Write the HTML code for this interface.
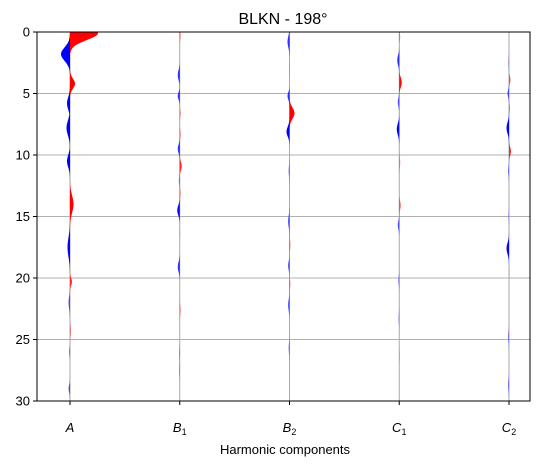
<!DOCTYPE html>
<html><head><meta charset="utf-8"><style>
body{margin:0;background:#fff;}
svg text{font-family:"Liberation Sans","DejaVu Sans",sans-serif;}
</style></head><body>
<svg id="chart" width="543" height="466" viewBox="0 0 543 466" xmlns="http://www.w3.org/2000/svg">
<text x="283" y="24" font-size="16" text-anchor="middle">BLKN - 198°</text>
<g id="grid"></g><g id="traces"></g><g id="axes"></g>
<text x="285" y="454" font-size="13" text-anchor="middle">Harmonic components</text>
</svg>
<script>
const components = ["A","B1","B2","C1","C2"];
const yTicks = [0,5,10,15,20,25,30];
// each trace: depths, amplitudes (px-ish, + red right, - blue left), widths (sigma in depth units)
const depthsA = [0.1,1.8,4.2,5.8,7.8,10.5,14.0,17.5,20.3,22.0,24.3,26.0,29.0];
const ampsA   = [28,-9,5,-3,-3.5,-3,3.5,-2.5,2,-1.5,1,-1,-1.5];
const sigA    = [0.55,0.55,0.4,0.5,0.6,0.5,0.7,0.8,0.3,0.5,0.4,0.3,0.3];
const depthsB1 = [0.3,3.5,5.2,6.6,8.3,9.5,10.9,12.1,13.1,14.5,16.4,19.1,22.6,26.1,27.5];
const ampsB1   = [1,-2,-2,1,1,-2,2,-1,1,-2.5,0.5,-2,1,-0.7,-0.7];
const sigB1    = [0.3,0.4,0.3,0.3,0.3,0.35,0.35,0.3,0.3,0.4,0.3,0.4,0.35,0.4,0.4];
const depthsB2 = [0.8,3.0,5.2,6.6,8.1,11.3,15.4,17.3,19.0,20.5,22.2,25.7];
const ampsB2   = [-2,0.5,-2,5,-3,-1,-1.5,1,-1.5,1,-1.5,-1];
const sigB2    = [0.45,0.4,0.3,0.45,0.4,0.4,0.45,0.4,0.35,0.35,0.45,0.4];
const depthsC1 = [0.4,2.3,4.1,5.7,7.9,10.6,14.1,15.7,20.2,23.3,26.3];
const ampsC1   = [1,-2,2.5,-1.5,-2.5,1,1.5,-1.5,-1,-0.8,0.5];
const sigC1    = [0.3,0.4,0.4,0.35,0.45,0.4,0.35,0.35,0.35,0.4,0.4];
const depthsC2 = [2.5,3.9,5.0,6.2,7.8,9.7,11.3,15.0,17.6,19.6,24.8,28.7];
const ampsC2   = [-0.7,1.5,-1.5,1,-2.5,2,-1,-0.7,-2.5,0.5,-1,-1];
const sigC2    = [0.4,0.3,0.3,0.3,0.45,0.35,0.35,0.35,0.45,0.3,0.4,0.45];
const traces = [[depthsA,ampsA,sigA],[depthsB1,ampsB1,sigB1],[depthsB2,ampsB2,sigB2],[depthsC1,ampsC1,sigC1],[depthsC2,ampsC2,sigC2]];

const L=37,R=530,T=32,B=401;
const yS=d=>T+d*(B-T)/30;
const xS=i=>70+i*109.75;
const NS="http://www.w3.org/2000/svg";
const mk=(t,a,p)=>{const e=document.createElementNS(NS,t);for(const k in a)e.setAttribute(k,a[k]);p.appendChild(e);return e;};
const grid=document.getElementById('grid'),tr=document.getElementById('traces'),ax=document.getElementById('axes');
yTicks.forEach(v=>{
  if(v>0&&v<30){const g=mk('line',{x1:L,x2:R,y1:yS(v),y2:yS(v),stroke:'#b0b0b0','stroke-width':1},grid);
  
  }
  const t=mk('line',{x1:L-4,x2:L,y1:yS(v),y2:yS(v),stroke:'#000'},ax);
  
  
  const l=mk('text',{x:L-7,y:yS(v)+4.5,'font-size':13,'text-anchor':'end'},ax);
  l.textContent=v;
  
  
});
traces.forEach((td,i)=>{
  const cx=xS(i);
  const ln=mk('line',{x1:cx,x2:cx,y1:T,y2:B,stroke:'#aaa','stroke-width':1},tr);
  
  
  td[0].forEach((d,k)=>{
    const a=td[1][k],s=td[2][k];
    let pts=[];
    for(let z=Math.max(0,d-3*s);z<=Math.min(30,d+3*s)+1e-9;z+=0.05){
      pts.push([cx+a*Math.exp(-0.5*((z-d)/s)**2),yS(z)]);
    }
    const p0=pts[0],pn=pts[pts.length-1];
    let dstr=`M${cx},${p0[1]} `+pts.map(p=>`L${p[0].toFixed(2)},${p[1].toFixed(2)}`).join(' ')+` L${cx},${pn[1]} Z`;
    const op=Math.min(1,0.15+Math.abs(a)/3);
    const pe=mk('path',{d:dstr,fill:a>0?'#ff0000':'#0000ff','fill-opacity':op},tr);
    
    
  });
  const t=mk('line',{x1:cx,x2:cx,y1:B,y2:B+4,stroke:'#000'},ax);
  
  
  const lab=mk('text',{x:cx,y:432,'font-size':13,'text-anchor':'middle','font-style':'italic'},ax);
  const c=components[i];
  const m=mk('tspan',{},lab);m.textContent=c[0];
  if(c.length>1){const s=mk('tspan',{'font-size':9,dy:3,'font-style':'normal'},lab);s.textContent=c.slice(1);}
  
  
});
const fr=mk('rect',{x:L,y:T,width:R-L,height:B-T,fill:'none',stroke:'#000','stroke-width':1},ax);


</script>
</body></html>
